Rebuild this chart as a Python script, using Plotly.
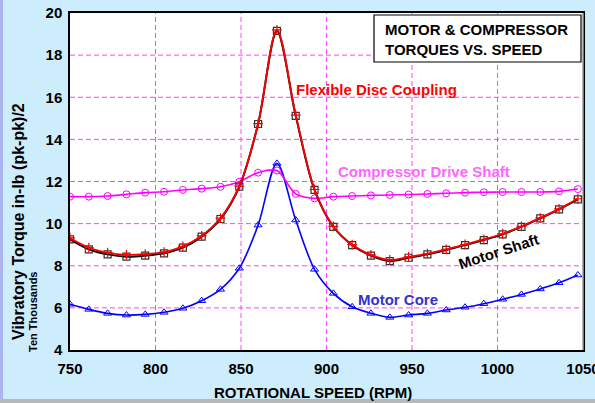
import plotly.graph_objects as go

rpm = [750, 761, 772, 783, 794, 805, 816, 827, 838, 849, 860, 871, 882, 893,
       904, 915, 926, 937, 948, 959, 970, 981, 992, 1003, 1014, 1025, 1036, 1047]

motor_shaft = [9.25, 8.78, 8.54, 8.43, 8.48, 8.59, 8.86, 9.38, 10.22, 11.75, 14.73, 19.15, 15.12, 11.60,
               9.85, 8.98, 8.48, 8.22, 8.38, 8.54, 8.75, 8.98, 9.22, 9.49, 9.85, 10.25, 10.68, 11.15]

coupling = [9.32, 8.86, 8.62, 8.52, 8.55, 8.65, 8.92, 9.42, 10.26, 11.78, 14.75, 19.2, 15.15, 11.62,
            9.87, 9.00, 8.52, 8.28, 8.42, 8.58, 8.78, 9.01, 9.25, 9.52, 9.87, 10.27, 10.70, 11.18]

compressor = [11.28, 11.28, 11.31, 11.39, 11.47, 11.51, 11.60, 11.66, 11.75, 11.99, 12.42, 12.52, 11.41, 11.20,
              11.28, 11.31, 11.34, 11.36, 11.38, 11.41, 11.44, 11.47, 11.49, 11.50, 11.50, 11.50, 11.53, 11.64]

motor_core = [6.17, 5.93, 5.74, 5.66, 5.69, 5.79, 5.98, 6.34, 6.88, 7.88, 9.93, 12.86, 10.17, 7.83,
              6.69, 6.05, 5.74, 5.55, 5.66, 5.74, 5.90, 6.03, 6.20, 6.41, 6.64, 6.90, 7.19, 7.56]

x_ticks = [750, 800, 850, 900, 950, 1000, 1050]
y_ticks = [4, 6, 8, 10, 12, 14, 16, 18, 20]

FONT = "Liberation Sans, Arial, sans-serif"
GRID = "#ff40ff"

# plot-area geometry in pixels (for paper-coordinate conversion)
L, T, R, B = 70, 13, 583, 350
PW, PH = R - L, B - T


def px(xp):
    return (xp - L) / PW


def py(yp):
    return (B - yp) / PH


fig = go.Figure()

fig.add_trace(go.Scatter(x=rpm, y=motor_core, mode="lines+markers",
                         line=dict(color="#0000ff", width=1.6, shape="spline", smoothing=0.9),
                         marker=dict(symbol="triangle-up-open", size=7, color="#0000ff", line=dict(width=1))))
fig.add_trace(go.Scatter(x=rpm, y=compressor, mode="lines+markers",
                         line=dict(color="#ff00ff", width=1.6, shape="spline", smoothing=0.9),
                         marker=dict(symbol="circle-open", size=7, color="#ff00ff", line=dict(width=1))))
fig.add_trace(go.Scatter(x=rpm, y=motor_shaft, mode="lines+markers",
                         line=dict(color="#000000", width=2, shape="spline", smoothing=0.9),
                         marker=dict(symbol="square-open", size=7, color="#333333", line=dict(width=1.2))))
fig.add_trace(go.Scatter(x=rpm, y=coupling, mode="lines+markers",
                         line=dict(color="#ff0000", width=1.8, shape="spline", smoothing=0.9),
                         marker=dict(symbol="cross-thin-open", size=7, color="#ff0000",
                                     line=dict(width=1.2, color="#ff0000"))))

axis_common = dict(showgrid=False, zeroline=False, showline=True, linecolor="#000000", linewidth=1.5,
                   mirror=True, ticks="", automargin=False, ticklabeloverflow="allow",
                   tickfont=dict(family=FONT, size=15, color="#000000", weight="bold"))

fig.update_xaxes(range=[750, 1050], tickvals=x_ticks, ticklabelstandoff=4, **axis_common)
fig.update_yaxes(range=[4, 20], tickvals=y_ticks, ticklabelstandoff=3, **axis_common)

grid_shapes = []
for xv in x_ticks[1:-1]:
    grid_shapes.append(dict(type="line", xref="x", yref="paper", x0=xv, x1=xv, y0=0, y1=1, layer="below",
                            line=dict(color=GRID, width=1, dash="5px,3px")))
for yv in y_ticks[1:-1]:
    grid_shapes.append(dict(type="line", xref="paper", yref="y", x0=0, x1=1, y0=yv, y1=yv, layer="below",
                            line=dict(color=GRID, width=1, dash="5px,3px")))

fig.update_layout(
    width=595, height=403,
    margin=dict(l=L, r=595 - R, t=T, b=403 - B, autoexpand=False),
    paper_bgcolor="#cdecfc", plot_bgcolor="#ffffff",
    showlegend=False,
    shapes=grid_shapes + [
        dict(type="line", xref="paper", yref="paper", x0=1, x1=1, y0=0, y1=1,
             line=dict(color="#a0a0a0", width=1.5)),
        dict(type="rect", xref="paper", yref="paper", x0=px(0), x1=px(3), y0=py(403), y1=py(0),
             line=dict(width=0), fillcolor="#aab4ee"),
        dict(type="rect", xref="paper", yref="paper", x0=px(0), x1=px(595), y0=py(403), y1=py(399),
             line=dict(width=0), fillcolor="#b8b8b8"),
        dict(type="rect", xref="paper", yref="paper", x0=px(374), x1=px(581), y0=py(62), y1=py(15),
             line=dict(color="#000000", width=1.2), fillcolor="#ffffff"),
    ],
    annotations=[
        dict(text="ROTATIONAL SPEED (RPM)", xref="paper", yref="paper", x=px(313), y=py(392),
             showarrow=False, xanchor="center", yanchor="middle",
             font=dict(family=FONT, size=15, color="#000000", weight="bold")),
        dict(text="Vibratory Torque in-lb (pk-pk)/2", xref="paper", yref="paper", x=px(18), y=py(222),
             showarrow=False, textangle=-90, xanchor="center", yanchor="middle",
             font=dict(family=FONT, size=16, color="#000000", weight="bold")),
        dict(text="Ten Thousands", xref="paper", yref="paper", x=px(33), y=py(312),
             showarrow=False, textangle=-90, xanchor="center", yanchor="middle",
             font=dict(family=FONT, size=11, color="#000000", weight="bold")),
        dict(text="MOTOR &amp; COMPRESSOR<br>TORQUES VS. SPEED", xref="paper", yref="paper",
             x=px(383), y=py(39), xanchor="left", yanchor="middle", align="left",
             showarrow=False,
             font=dict(family=FONT, size=15, color="#000000", weight="bold")),
        dict(text="Flexible Disc Coupling", xref="paper", yref="paper", x=px(294), y=py(89),
             xanchor="left", yanchor="middle", showarrow=False,
             font=dict(family=FONT, size=15, color="#ff0000", weight="bold")),
        dict(text="Compressor Drive Shaft", xref="paper", yref="paper", x=px(336), y=py(171),
             xanchor="left", yanchor="middle", showarrow=False,
             font=dict(family=FONT, size=15, color="#ff66ff", weight="bold")),
        dict(text="Motor Shaft", xref="paper", yref="paper", x=px(498), y=py(251),
             xanchor="center", yanchor="middle", showarrow=False, textangle=-18,
             font=dict(family=FONT, size=15, color="#000000", weight="bold")),
        dict(text="Motor Core", xref="paper", yref="paper", x=px(356), y=py(299),
             xanchor="left", yanchor="middle", showarrow=False,
             font=dict(family=FONT, size=15, color="#3333cc", weight="bold")),
    ],
)

fig.write_html("out.html", config={"displayModeBar": False})
